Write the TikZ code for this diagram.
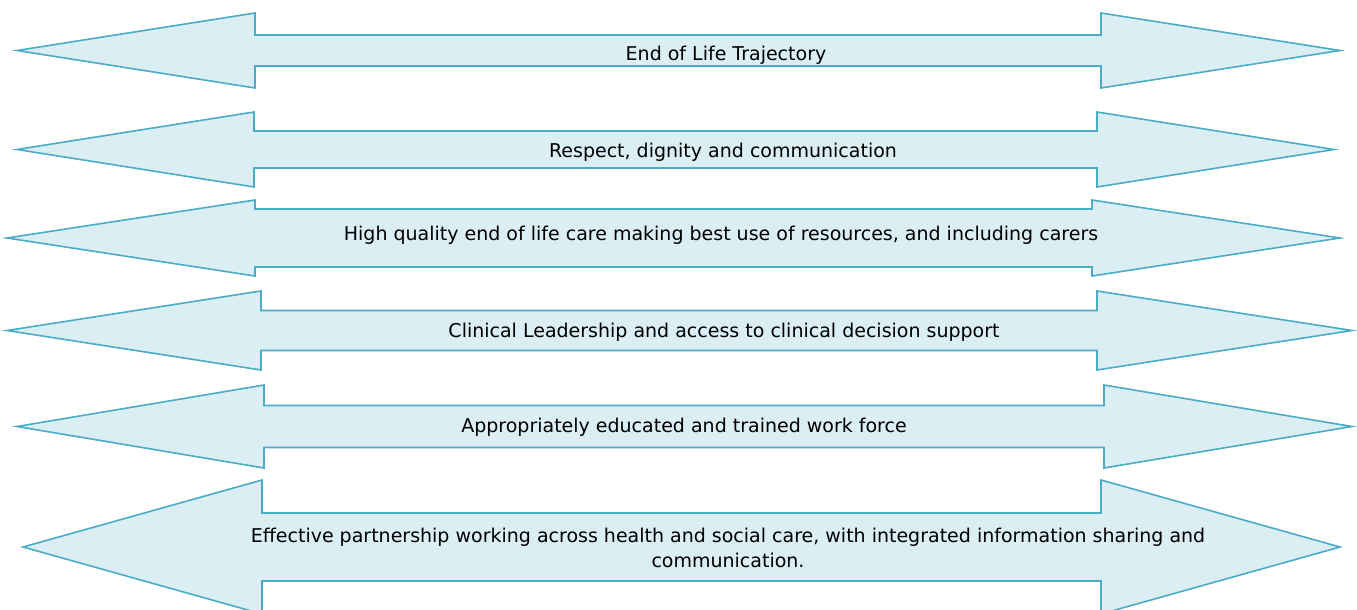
\documentclass[tikz,border=0pt]{standalone}
\usepackage{fontspec}
\setmainfont{DejaVu Sans}
\definecolor{aquafill}{HTML}{DAEEF3}
\definecolor{aquaedge}{HTML}{4BACC6}
\tikzset{
  bararrow/.style={fill=aquafill,draw=aquaedge,line width=1.6pt},
  bartext/.style={font=\fontsize{19}{25}\selectfont,anchor=base,align=center,inner sep=0pt}
}

\begin{document}
\begin{tikzpicture}[x=1pt,y=-1pt]
\useasboundingbox (0,0) rectangle (1357,610);
% The double arrows: centre, head and shaft half heights, tip/base x values
\foreach \yc/\hh/\sh/\lt/\lb/\rb/\rt in {
  50.5/37.5/15.5/17/255/1101/1340,
  149.5/37.5/18.5/17/254/1097/1334,
  238/38/29/7/255/1092/1340,
  330.5/39.5/20/7/261/1097/1352,
  426.5/41.5/21/17/264/1104/1352,
  547/67/34/23/262/1101/1340}
{
  \draw[bararrow] (\lt,\yc) -- (\lb,\yc-\hh) -- (\lb,\yc-\sh) -- (\rb,\yc-\sh)
    -- (\rb,\yc-\hh) -- (\rt,\yc) -- (\rb,\yc+\hh) -- (\rb,\yc+\sh)
    -- (\lb,\yc+\sh) -- (\lb,\yc+\hh) -- cycle;
}
% The labels
\begin{scope}
  \clip (255,36) rectangle (1101,65);
  \node[bartext] (trajectory) at (726,61) {End of Life Trajectory};
\end{scope}
\node[bartext] (respect) at (723,157) {Respect, dignity and communication};
\node[bartext] (quality) at (721,240) {High quality end of life care making best use of resources, and including carers};
\node[bartext] (leadership) at (724,337) {Clinical Leadership and access to clinical decision support};
\node[bartext] (workforce) at (684,432) {Appropriately educated and trained work force};
% base of a two line node sits on its last line
\node[bartext] (partnership) at (728,567) {Effective partnership working across health and social care, with integrated information sharing and\\communication.};
\end{tikzpicture}
\end{document}
